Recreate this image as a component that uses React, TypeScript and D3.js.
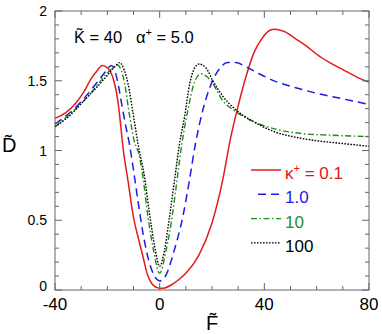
import React from "react";
import * as d3 from "d3";

// F~ values and D~ values, one pair per kappa+
const k01F = [-40, -36, -32, -29, -26, -24, -22, -20.5, -19, -17.5, -16, -15, -14, -12, -10, -8, -6, -5, -4, -2.5, 0, 2, 4.4, 7, 10, 15, 20, 24, 27, 30, 33, 36, 39, 42, 44, 48, 52, 56, 60, 65, 70, 75, 80];
const k01D = [1.23, 1.27, 1.34, 1.42, 1.52, 1.57, 1.61, 1.6, 1.57, 1.5, 1.36, 1.2, 1.02, 0.77, 0.52, 0.36, 0.21, 0.13, 0.08, 0.035, 0.012, 0.015, 0.036, 0.07, 0.12, 0.25, 0.48, 0.78, 1.08, 1.32, 1.53, 1.7, 1.8, 1.86, 1.87, 1.85, 1.8, 1.75, 1.69, 1.63, 1.58, 1.53, 1.49];

const k1F = [-40, -35, -30, -26, -23, -20.5, -18.5, -17.5, -16.5, -15.5, -14.5, -13, -11.5, -10, -8.3, -6.4, -4, -2, 0, 2.5, 5.5, 8.9, 11.4, 13.5, 16.5, 20, 23, 26, 29, 33, 38, 45, 52, 60, 70, 80];
const k1D = [1.19, 1.26, 1.35, 1.44, 1.51, 1.57, 1.61, 1.59, 1.53, 1.44, 1.33, 1.18, 1.04, 0.86, 0.64, 0.41, 0.2, 0.1, 0.065, 0.11, 0.28, 0.53, 0.79, 1.03, 1.29, 1.49, 1.59, 1.63, 1.63, 1.6, 1.55, 1.49, 1.45, 1.41, 1.37, 1.33];

const k10F = [-40, -34.4, -29.3, -24.2, -19.8, -17.5, -16.3, -15, -13.4, -11.5, -9.5, -8, -6.4, -4.5, -2.6, 0, 2.5, 4.4, 6.3, 8.5, 10.8, 13.3, 15.8, 18, 20.3, 24, 29, 35.5, 45, 55, 65, 80];
const k10D = [1.17, 1.26, 1.35, 1.46, 1.56, 1.6, 1.615, 1.59, 1.48, 1.25, 1.05, 0.98, 0.81, 0.53, 0.31, 0.12, 0.29, 0.48, 0.74, 1.05, 1.29, 1.49, 1.55, 1.53, 1.48, 1.36, 1.28, 1.21, 1.15, 1.12, 1.11, 1.1];

const k100F = [-40, -34.4, -29.3, -24.2, -20.4, -17.2, -15.3, -13.6, -12.1, -10.2, -8.3, -5.8, -3.9, -1.9, 0, 1.9, 3.8, 5.7, 7.6, 9.5, 11.5, 13.3, 15, 17.8, 20.3, 24.1, 29.2, 35.6, 44.5, 53.4, 60, 70, 80];
const k100D = [1.17, 1.25, 1.35, 1.45, 1.53, 1.6, 1.63, 1.58, 1.48, 1.27, 1.05, 0.81, 0.55, 0.31, 0.17, 0.29, 0.53, 0.79, 1.05, 1.24, 1.48, 1.59, 1.62, 1.59, 1.5, 1.39, 1.29, 1.21, 1.13, 1.09, 1.07, 1.05, 1.03];

const legendLabels = ["0.1", "1.0", "10", "100"];
const xTickLabels = [-40, 0, 40, 80];
const yTickLabels = [0, 0.5, 1, 1.5, 2];

const series = [
  { f: k01F, d: k01D, color: "#e41b1b", dash: "", width: 1.5, text: "#e01818" },
  { f: k1F, d: k1D, color: "#1c1ce6", dash: "8,5", width: 1.5, text: "#1c1ce6" },
  { f: k10F, d: k10D, color: "#1a8c1a", dash: "6,2.5,1.5,2.5", width: 1.4, text: "#1f8f1f" },
  { f: k100F, d: k100D, color: "#000", dash: "1.6,1.4", width: 1.4, text: "#000" },
];

const W = 382, H = 334;
const left = 55, right = 369, top = 11, bottom = 290;
const font = "'Liberation Sans', Arial, Helvetica, sans-serif";

const App = () => {
  const x = d3.scaleLinear().domain([-40, 80]).range([left, right]);
  const y = d3.scaleLinear().domain([0, 2]).range([bottom, top]);
  const line = d3.line<[number, number]>()
    .x((p) => x(p[0]))
    .y((p) => y(p[1]))
    .curve(d3.curveMonotoneX);

  const xTicks = d3.range(-40, 81, 10);
  const yTicks = d3.range(0, 21).map((i) => i / 10);
  const isMajX = (v: number) => v % 40 === 0;
  const isMajY = (v: number) => Math.abs(v * 2 - Math.round(v * 2)) < 1e-6;
  const tickColor = "#666";

  return (
    <svg width={W} height={H} style={{ position: "absolute", left: 0, top: 0 }} fontFamily={font}>
      <rect x={0} y={0} width={W} height={H} fill="#fff" />
      {series.map((s, i) => (
        <path key={i} d={line(s.f.map((v, j) => [v, s.d[j]] as [number, number])) || ""}
          fill="none" stroke={s.color} strokeWidth={s.width} strokeDasharray={s.dash || undefined} />
      ))}
      <rect x={left} y={top} width={right - left} height={bottom - top} fill="none" stroke={tickColor} strokeWidth={1} />
      {xTicks.map((v) => {
        const len = isMajX(v) ? 7 : 4;
        return (
          <g key={"x" + v} stroke={tickColor}>
            <line x1={x(v)} x2={x(v)} y1={bottom} y2={bottom - len} />
            <line x1={x(v)} x2={x(v)} y1={top} y2={top + len} />
          </g>
        );
      })}
      {yTicks.map((v) => {
        const len = isMajY(v) ? 7 : 4;
        return (
          <g key={"y" + v} stroke={tickColor}>
            <line x1={left} x2={left + len} y1={y(v)} y2={y(v)} />
            <line x1={right} x2={right - len} y1={y(v)} y2={y(v)} />
          </g>
        );
      })}
      {xTickLabels.map((v) => (
        <text key={"xl" + v} x={x(v)} y={310} fontSize={17} textAnchor="middle">{v}</text>
      ))}
      {yTickLabels.map((v) => (
        <text key={"yl" + v} x={47} y={v === 0 ? y(v) + 0.5 : y(v) + 5} fontSize={14} textAnchor="end">{v}</text>
      ))}
      {/* axis titles */}
      <text x={2} y={152} fontSize={20}>{"D\u0303"}</text>
      <text x={206} y={330} fontSize={20}>{"F\u0303"}</text>
      {/* annotation */}
      <text x={74} y={43} fontSize={16.5}>{"K\u0303 = 40"}</text>
      <text x={136} y={43} fontSize={16.5}>α<tspan fontSize={11} dy={-7}>+</tspan><tspan dy={7}> = 5.0</tspan></text>
      {/* legend */}
      {series.map((s, i) => {
        const ly = 170 + i * 24.3;
        const x0 = i === 1 ? 258 : 251;
        return (
          <g key={"lg" + i}>
            <line x1={x0} x2={281} y1={ly} y2={ly} stroke={s.color} strokeWidth={s.width}
              strokeDasharray={s.dash || undefined} />
            <text x={285} y={ly + 9} fontSize={17} fill={s.text}>
              {i === 0 ? (
                <>κ<tspan fontSize={11} dy={-7}>+</tspan><tspan dy={7}> = {legendLabels[i]}</tspan></>
              ) : legendLabels[i]}
            </text>
          </g>
        );
      })}
    </svg>
  );
};

export default App;
